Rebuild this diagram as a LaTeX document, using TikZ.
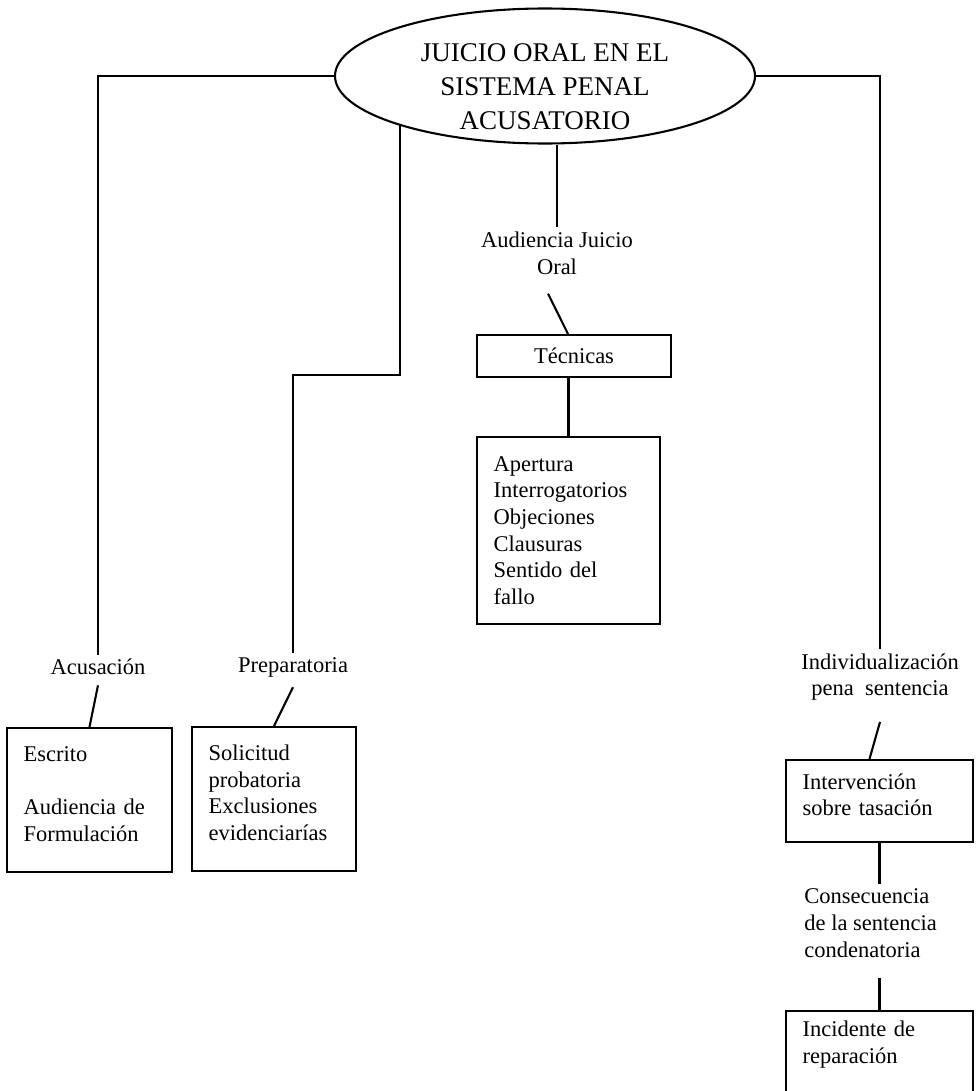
\documentclass[tikz,border=0pt]{standalone}
\usepackage{fontspec}
\setmainfont{Liberation Serif}
\usetikzlibrary{shapes.geometric,positioning,calc}

\begin{document}
\begin{tikzpicture}[
    x=0.6pt, y=-0.6pt,
    line width=1.25pt,
    every node/.style = {font=\fontsize{13.5}{16}\selectfont},
    tag/.style = {align=center, inner sep=2pt},
    box/.style = {rectangle, draw, align=left, inner xsep=10pt, inner ysep=4pt, text width=#1},
    title/.style = {ellipse, draw, minimum width=252pt, minimum height=81pt},
    titletext/.style = {align=center, inner sep=0pt, font=\fontsize{16.2}{20.4}\selectfont}
]
    \useasboundingbox (0,0) rectangle (975,1091);
    \clip (0,0) rectangle (975,1091);

    % 1. Main ellipse
    \node [title] (juicio) at (545,76) {};
    \node [titletext] (titulo) at ($(juicio.center)+(0,10.5)$) {JUICIO ORAL EN EL\\SISTEMA PENAL\\ACUSATORIO};

    % 2. Labels on the branches
    \node [tag] (acusacion) at (98,667) {Acusación};
    \node [tag] (preparatoria) at (293,667) {Preparatoria};
    \node [tag] (audiencia) at (557,253) {Audiencia Juicio\\Oral};
    \node [tag] (individual) at (880,677) {Individualización\\pena\ \ sentencia};
    \node [tag, align=left, anchor=west] (consecuencia) at (800,923) {Consecuencia\\de la sentencia\\condenatoria};

    % 3. Boxes
    \node [box=79pt, minimum height=86.4pt, text depth=55.5pt] (escrito) at (89.5,800) {Escrito\\[16pt]Audiencia de\\Formulación};
    \node [box=78.4pt, minimum height=86.4pt, text depth=55.4pt] (solicitud) at (274,799) {Solicitud\\probatoria\\Exclusiones\\evidenciarías};
    \node [rectangle, draw, minimum width=116.4pt, minimum height=25.2pt] (tecnicas) at (574,356) {Técnicas};
    \node [box=89.8pt, minimum height=112.2pt] (apertura) at (568.5,530.5) {Apertura\\Interrogatorios\\Objeciones\\Clausuras\\Sentido del\\fallo};
    \node [box=92.2pt, minimum height=49.2pt, text depth=23.4pt] (intervencion) at (879.5,801) {Intervención\\sobre tasación};
    \node [box=92.2pt, anchor=north, inner ysep=6pt, text depth=50pt] (incidente) at (879.5,1010) {Incidente de\\reparación};

    % 4. Branches from the ellipse
    \draw (juicio.west) -| (acusacion.north);
    \draw (juicio.-161.6) -- ++(0,249) -| (preparatoria.north);
    \draw (audiencia.north |- juicio.south) -- (audiencia.north);
    \draw (juicio.east) -| (individual.north);

    % 5. Labels to boxes
    \draw ($(acusacion.south)+(0,6)$) -- (escrito.north);
    \draw ($(preparatoria.south)+(0,6)$) -- (solicitud.north);
    \draw ($(audiencia.south)+(-9,15)$) -- ($(tecnicas.north)+(-6,0)$);
    \draw (tecnicas.south -| apertura.north) -- (apertura.north);
    \draw ($(individual.south)+(0,17)$) -- ($(intervencion.north)+(-10,0)$);
    \draw (intervencion.south) -- (intervencion.south |- consecuencia.north);
    \draw ($(incidente.north |- consecuencia.south)+(0,16)$) -- (incidente.north);
\end{tikzpicture}
\end{document}
